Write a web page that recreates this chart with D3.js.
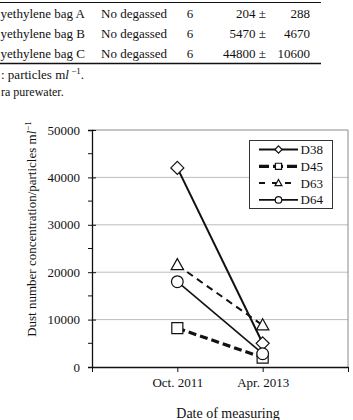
<!DOCTYPE html>
<html><head><meta charset="utf-8">
<script src="https://cdn.jsdelivr.net/npm/d3@7"></script>
<style>
html,body{margin:0;padding:0;background:#fff;}
svg{display:block;}
svg text{font-family:"Liberation Serif","DejaVu Serif",serif !important;}
</style></head>
<body><svg id="c" width="353" height="420"></svg>
<script>
const categories = ["Oct. 2011", "Apr. 2013"];
const seriesNames = ["D38", "D45", "D63", "D64"];
const D38 = [42000, 5000];
const D45 = [8200, 2000];
const D63 = [21500, 8800];
const D64 = [18000, 2800];
const yTicks = [0, 10000, 20000, 30000, 40000, 50000];
const yMinor = [5000, 15000, 25000, 35000, 45000];
const tableRows = [
  ["yethylene bag A", "No degassed", "6", "204 \u00b1", "288"],
  ["yethylene bag B", "No degassed", "6", "5470 \u00b1", "4670"],
  ["yethylene bag C", "No degassed", "6", "44800 \u00b1", "10600"]
];
const notes = [": particles m", "ra purewater."];

const svg = d3.select("#c");
const black = "#111";

// table fragment
svg.append("line").attr("x1",0).attr("x2",321).attr("y1",2.5).attr("y2",2.5).attr("stroke",black).attr("stroke-width",1);
svg.append("line").attr("x1",0).attr("x2",321).attr("y1",63.5).attr("y2",63.5).attr("stroke",black).attr("stroke-width",1.6);
const colX = [0.5, 101, 190, 266, 310];
const colAnchor = ["start", "start", "middle", "end", "end"];
tableRows.forEach((r, i) => {
  r.forEach((t, j) => {
    svg.append("text").attr("x", colX[j]).attr("y", 18 + i*20)
      .attr("text-anchor", colAnchor[j]).attr("font-size", 13).attr("fill", black).text(t);
  });
});
const n1 = svg.append("text").attr("x", 1).attr("y", 79).attr("font-size", 13).attr("fill", black);
n1.append("tspan").text(notes[0]);
n1.append("tspan").attr("font-style","italic").text("l");
n1.append("tspan").attr("dy",-5).attr("font-size",9).text(" \u22121");
n1.append("tspan").attr("dy",5).text(".");
svg.append("text").attr("x", 1).attr("y", 96).attr("font-size", 12).attr("fill", black).text(notes[1]);

// chart
const L = 92, R = 348, T = 130, B = 367;
const x = d3.scalePoint().domain(["_s", ...categories, "_e"]).range([L, R]);
const y = d3.scaleLinear().domain([0, 50000]).range([B, T]);

// grid
svg.append("g").selectAll("line").data(yTicks.filter(v => v > 0 && v < 50000)).join("line")
  .attr("x1", L).attr("x2", R).attr("y1", d => y(d)).attr("y2", d => y(d))
  .attr("stroke", "#bdbdbd").attr("stroke-width", 1);
// border top/right
svg.append("path").attr("d", `M${L},${y(50000)}H${R}V${B}`).attr("fill","none").attr("stroke","#8a8a8a").attr("stroke-width",1);

// y axis
const yAx = svg.append("g").attr("transform", `translate(${L},0)`)
  .call(d3.axisLeft(y).tickValues(yTicks).tickSize(4).tickPadding(8).tickFormat(d3.format("d")));
yAx.attr("font-family", null);
yAx.select(".domain").attr("stroke", black).attr("stroke-width", 1.3);
yAx.selectAll(".tick line").attr("stroke", black).attr("x1", 4).attr("x2", -4);
yAx.selectAll(".tick text").attr("font-size", 13).attr("fill", black);
svg.append("g").selectAll("line").data(yMinor).join("line")
  .attr("x1", L - 4).attr("x2", L).attr("y1", d => y(d)).attr("y2", d => y(d)).attr("stroke", black);

// x axis
const xAx = svg.append("g").attr("transform", `translate(0,${B})`)
  .call(d3.axisBottom(x).tickSize(5).tickSizeOuter(0).tickPadding(6).tickFormat(d => d.startsWith("_") ? "" : d));
xAx.attr("font-family", null);
xAx.select(".domain").attr("stroke", black).attr("stroke-width", 1.3);
xAx.selectAll(".tick line").attr("stroke", black);
xAx.selectAll(".tick text").attr("font-size", 13).attr("fill", black);

// axis titles
const yt = svg.append("text").attr("transform", `translate(36,229) rotate(-90)`)
  .attr("text-anchor", "middle").attr("font-size", 13).attr("fill", black);
yt.append("tspan").text("Dust number concentration/particles m");
yt.append("tspan").attr("font-style","italic").text("l");
yt.append("tspan").attr("dy",-5).attr("font-size",9).text("\u22121");
svg.append("text").attr("x", 228).attr("y", 418).attr("text-anchor", "middle")
  .attr("font-size", 14).attr("fill", black).text("Date of measuring");

// series
const data = [D38, D45, D63, D64];
const styles = [
  {w: 2, dash: null, sym: "diamond"},
  {w: 3.2, dash: "8,4", sym: "square"},
  {w: 2, dash: "7,5", sym: "triangle"},
  {w: 1.6, dash: null, sym: "circle"}
];
function marker(g, sym, cx, cy, s) {
  let p;
  if (sym === "diamond") p = `M${cx},${cy-s}L${cx+s},${cy}L${cx},${cy+s}L${cx-s},${cy}Z`;
  else if (sym === "square") p = `M${cx-s*0.85},${cy-s*0.85}h${s*1.7}v${s*1.7}h${-s*1.7}Z`;
  else if (sym === "triangle") p = `M${cx},${cy-s}L${cx+s*0.95},${cy+s*0.7}L${cx-s*0.95},${cy+s*0.7}Z`;
  if (sym === "circle") g.append("circle").attr("cx",cx).attr("cy",cy).attr("r",s*0.9)
    .attr("fill","#fff").attr("stroke",black).attr("stroke-width",1.2);
  else g.append("path").attr("d",p).attr("fill","#fff").attr("stroke",black).attr("stroke-width",1.2);
}
const line = d3.line().x((d, i) => x(categories[i])).y(d => y(d));
data.forEach((s, k) => {
  svg.append("path").datum(s).attr("d", line).attr("fill", "none")
    .attr("stroke", black).attr("stroke-width", styles[k].w)
    .attr("stroke-dasharray", styles[k].dash);
});
data.forEach((s, k) => {
  const g = svg.append("g");
  s.forEach((v, i) => marker(g, styles[k].sym, x(categories[i]), y(v), 6.5));
});

// legend
const lg = svg.append("g");
lg.append("rect").attr("x", 249.5).attr("y", 140.5).attr("width", 83).attr("height", 68)
  .attr("fill", "#fff").attr("stroke", "#333").attr("stroke-width", 1);
seriesNames.forEach((n, k) => {
  const yy = 149.5 + k * 16.8;
  lg.append("line").attr("x1", 259).attr("x2", 298).attr("y1", yy).attr("y2", yy)
    .attr("stroke", black).attr("stroke-width", styles[k].w)
    .attr("stroke-dasharray", k === 1 ? "10,4" : (k === 2 ? "6,7" : null));
  marker(lg, styles[k].sym, 278.5, yy, 3.6);
  lg.append("text").attr("x", 300.5).attr("y", yy + 4.5).attr("font-size", 13).attr("fill", black).text(n);
});
</script></body></html>
